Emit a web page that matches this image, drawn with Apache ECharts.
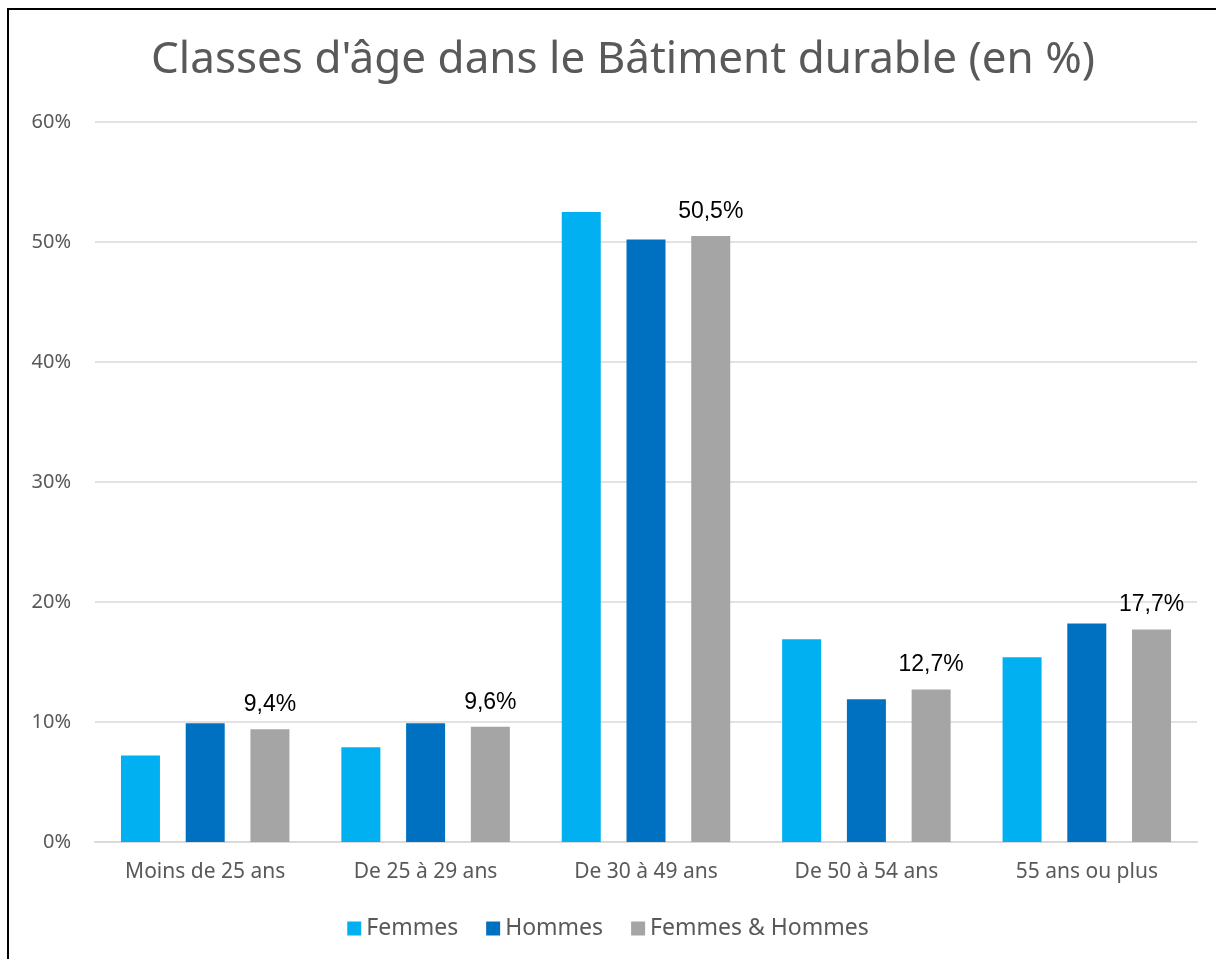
<!DOCTYPE html>
<html>
<head>
<meta charset="utf-8">
<script src="https://cdn.jsdelivr.net/npm/echarts@6/dist/echarts.min.js"></script>
<style>
  html, body { margin: 0; padding: 0; background: #fff; }
  #main { width: 1216px; height: 959px; }
</style>
</head>
<body>
<div id="main"></div>
<script>
var categories = ['Moins de 25 ans', 'De 25 à 29 ans', 'De 30 à 49 ans', 'De 50 à 54 ans', '55 ans ou plus'];
var femmes = [7.2, 7.9, 52.5, 16.9, 15.4];
var hommes = [9.9, 9.9, 50.2, 11.9, 18.2];
var ensemble = [9.4, 9.6, 50.5, 12.7, 17.7];
var yTicks = [0, 10, 20, 30, 40, 50, 60];

var font = '"Noto Sans", "Liberation Sans", sans-serif';
var labelFont = '"Liberation Sans", Arial, sans-serif';
var myChart = echarts.init(document.getElementById('main'));

function pct(v){
    return String(v.toFixed(1)).replace('.', ',') + '%';
}

var option = {
    animation: false,
    backgroundColor: '#fff',
    textStyle: { fontFamily: font },
    graphic: [
        {
            type: 'rect',
            shape: { x: 8, y: 9, width: 1230, height: 970 },
            style: { fill: 'none', stroke: '#000', lineWidth: 2 }
        }
    ],
    title: {
        text: "Classes d'âge dans le Bâtiment durable (en %)",
        left: 618,
        textAlign: 'center',
        top: 33,
        textStyle: { fontFamily: font, fontSize: 44, fontWeight: 'normal', color: '#595959' }
    },
    legend: {
        data: ['Femmes', 'Hommes', 'Femmes & Hommes'],
        left: 'center',
        top: 912,
        itemWidth: 14,
        itemHeight: 14,
        itemGap: 28,
        icon: 'rect',
        textStyle: { fontFamily: font, fontSize: 23, color: '#595959' }
    },
    grid: { left: 95, right: 19, top: 122, bottom: 117, containLabel: false },
    xAxis: {
        type: 'category',
        data: categories,
        axisLine: { lineStyle: { color: '#d9d9d9', width: 2 } },
        axisTick: { show: false },
        axisLabel: { fontFamily: font, fontSize: 21, color: '#595959', margin: 20 }
    },
    yAxis: {
        type: 'value',
        min: yTicks[0],
        max: yTicks[yTicks.length - 1],
        interval: 10,
        axisLine: { show: false },
        axisTick: { show: false },
        splitLine: { lineStyle: { color: '#d9d9d9', width: 1.5 } },
        axisLabel: { fontFamily: font, fontSize: 20, color: '#595959', margin: 24, formatter: '{value}%' }
    },
    series: [
        {
            name: 'Femmes',
            type: 'bar',
            data: femmes,
            barWidth: 39,
            barGap: '66%',
            itemStyle: { color: '#00b0f0' }
        },
        {
            name: 'Hommes',
            type: 'bar',
            data: hommes,
            barWidth: 39,
            barGap: '66%',
            itemStyle: { color: '#0070c0' }
        },
        {
            name: 'Femmes & Hommes',
            type: 'bar',
            data: ensemble,
            barWidth: 39,
            barGap: '66%',
            itemStyle: { color: '#a5a5a5' },
            label: {
                show: true,
                position: 'top',
                distance: 13,
                fontFamily: labelFont,
                fontSize: 23,
                color: '#000',
                formatter: function(p){ return pct(p.value); }
            }
        }
    ]
};
myChart.setOption(option);
</script>
</body>
</html>
